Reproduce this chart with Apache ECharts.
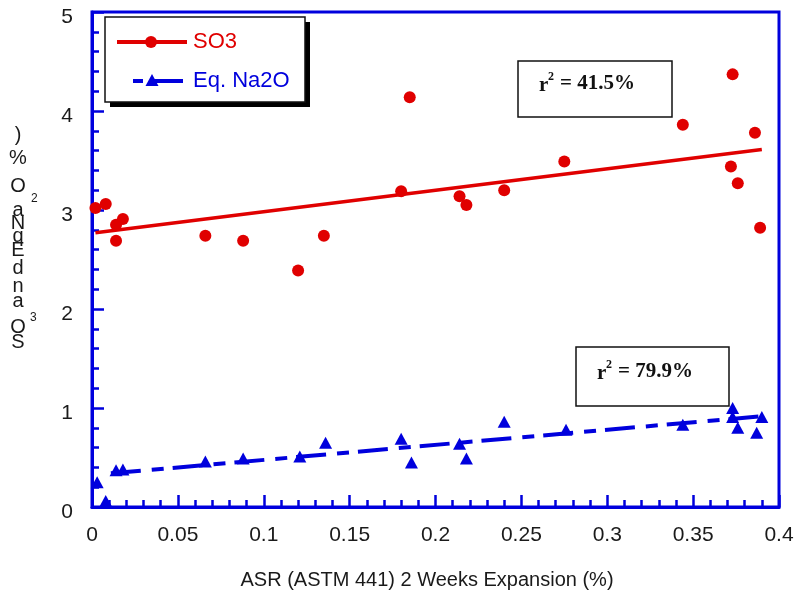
<!DOCTYPE html>
<html>
<head>
<meta charset="utf-8">
<script src="https://cdn.jsdelivr.net/npm/echarts@6/dist/echarts.min.js"></script>
<style>
  html, body { margin: 0; padding: 0; background: #fff; }
  #chart { width: 801px; height: 599px; }
</style>
</head>
<body>
<div id="chart"></div>
<script>
// values
const so3X = [0.002, 0.008, 0.014, 0.018, 0.014, 0.066, 0.088, 0.120, 0.135, 0.180, 0.185,
  0.214, 0.218, 0.240, 0.275, 0.344, 0.373, 0.372, 0.376, 0.386, 0.389];
const so3Y = [3.02, 3.06, 2.85, 2.91, 2.69, 2.74, 2.69, 2.39, 2.74, 3.19, 4.14,
  3.14, 3.05, 3.20, 3.49, 3.86, 4.37, 3.44, 3.27, 3.78, 2.82];

const naX = [0.003, 0.008, 0.014, 0.018, 0.066, 0.088, 0.121, 0.136, 0.180, 0.186,
  0.214, 0.218, 0.240, 0.276, 0.344, 0.373, 0.373, 0.376, 0.390, 0.387];
const naY = [0.25, 0.06, 0.37, 0.38, 0.46, 0.49, 0.51, 0.65, 0.69, 0.45,
  0.64, 0.49, 0.86, 0.78, 0.83, 1.00, 0.91, 0.80, 0.91, 0.75];

// fitted lines, endpoints as drawn
const so3TrendX = [0.002, 0.390];
const so3TrendY = [2.77, 3.61];
const naTrendX = [0.011, 0.392];
const naTrendY = [0.34, 0.92];

const xTicks = [0, 0.05, 0.1, 0.15, 0.2, 0.25, 0.3, 0.35, 0.4];
const yTicks = [0, 1, 2, 3, 4, 5];

const RED = '#e00000';
const BLUE = '#0000dd';

const zip = (xs, ys) => xs.map((x, i) => [x, ys[i]]);

// y axis title is drawn as stacked upright glyphs, like the source
const yTitle = [[')', 135], ['%', 158], ['O', 186], ['a', 210], ['N', 223], ['q', 236],
  ['E', 250], ['d', 268], ['n', 286], ['a', 301], ['O', 327], ['S', 342]];

const chart = echarts.init(document.getElementById('chart'));

const axisFont = { fontFamily: 'Arial, Liberation Sans', fontSize: 21, color: '#1a1a1a' };

const graphics = [];
yTitle.forEach(([ch, y]) => {
  graphics.push({ type: 'text', x: 18, y: y,
    style: { text: ch, font: '20px Arial, Liberation Sans', fill: '#1a1a1a', align: 'center', verticalAlign: 'middle' } });
});
graphics.push({ type: 'text', x: 31, y: 199, style: { text: '2', font: '12px Arial', fill: '#1a1a1a', verticalAlign: 'middle' } });
graphics.push({ type: 'text', x: 30, y: 318, style: { text: '3', font: '12px Arial', fill: '#1a1a1a', verticalAlign: 'middle' } });

// x axis title
graphics.push({ type: 'text', x: 427, y: 580,
  style: { text: 'ASR (ASTM 441) 2 Weeks Expansion (%)', font: '20px Arial, Liberation Sans', fill: '#1a1a1a', align: 'center', verticalAlign: 'middle' } });

// legend box
graphics.push({ type: 'rect', shape: { x: 110, y: 22, width: 200, height: 85 }, style: { fill: '#000' }, z: 10 });
graphics.push({ type: 'rect', shape: { x: 105, y: 17, width: 200, height: 85 }, style: { fill: '#fff', stroke: '#111', lineWidth: 1.5 }, z: 11 });
graphics.push({ type: 'line', shape: { x1: 117, y1: 42, x2: 187, y2: 42 }, style: { stroke: RED, lineWidth: 4 }, z: 12 });
graphics.push({ type: 'circle', shape: { cx: 151, cy: 42, r: 6 }, style: { fill: RED }, z: 12 });
graphics.push({ type: 'text', x: 193, y: 42, style: { text: 'SO3', font: '22px Arial, Liberation Sans', fill: RED, verticalAlign: 'middle' }, z: 12 });
graphics.push({ type: 'line', shape: { x1: 133, y1: 81, x2: 143, y2: 81 }, style: { stroke: BLUE, lineWidth: 4 }, z: 12 });
graphics.push({ type: 'line', shape: { x1: 150, y1: 81, x2: 183, y2: 81 }, style: { stroke: BLUE, lineWidth: 4 }, z: 12 });
graphics.push({ type: 'polygon', shape: { points: [[152, 74], [158.5, 86], [145.5, 86]] }, style: { fill: BLUE }, z: 12 });
graphics.push({ type: 'text', x: 193, y: 81, style: { text: 'Eq. Na2O', font: '22px Arial, Liberation Sans', fill: BLUE, verticalAlign: 'middle' }, z: 12 });

// r-squared boxes
function rBox(x, y, w, h, tx, ty, val) {
  const f = '"Liberation Serif", "Times New Roman", serif';
  graphics.push({ type: 'rect', shape: { x: x, y: y, width: w, height: h }, style: { fill: '#fff', stroke: '#111', lineWidth: 1.5 }, z: 10 });
  graphics.push({ type: 'text', x: tx, y: ty + 2, style: { text: 'r', font: 'bold 21px ' + f, fill: '#111', verticalAlign: 'middle' }, z: 11 });
  graphics.push({ type: 'text', x: tx + 9, y: ty - 7, style: { text: '2', font: 'bold 12px ' + f, fill: '#111', verticalAlign: 'middle' }, z: 11 });
  graphics.push({ type: 'text', x: tx + 21, y: ty, style: { text: '= ' + val, font: 'bold 21px ' + f, fill: '#111', verticalAlign: 'middle' }, z: 11 });
}
rBox(518, 61, 154, 56, 539, 84, '41.5%');
rBox(576, 347, 153, 59, 597, 372, '79.9%');

const option = {
  animation: false,
  backgroundColor: '#fff',
  grid: { left: 92, right: 22, top: 12, bottom: 92, show: true, borderColor: BLUE, borderWidth: 3 },
  xAxis: {
    type: 'value', min: xTicks[0], max: xTicks[xTicks.length - 1], interval: 0.05,
    axisLine: { lineStyle: { color: BLUE, width: 3 } },
    axisTick: { inside: true, length: 12, lineStyle: { color: BLUE, width: 2.5 } },
    minorTick: { show: true, splitNumber: 5, length: 7, lineStyle: { color: BLUE, width: 2.5 } },
    splitLine: { show: false },
    axisLabel: Object.assign({ margin: 18 }, axisFont)
  },
  yAxis: {
    type: 'value', min: yTicks[0], max: yTicks[yTicks.length - 1], interval: 1,
    axisLine: { lineStyle: { color: BLUE, width: 3 } },
    axisTick: { inside: true, length: 12, lineStyle: { color: BLUE, width: 2.5 } },
    minorTick: { show: true, splitNumber: 5, length: 7, lineStyle: { color: BLUE, width: 2.5 } },
    splitLine: { show: false },
    axisLabel: Object.assign({ margin: 19, verticalAlign: 'top', lineHeight: 10 }, axisFont)
  },
  graphic: graphics,
  series: [
    {
      name: 'SO3 fit', type: 'line', data: zip(so3TrendX, so3TrendY), symbol: 'none',
      lineStyle: { color: RED, width: 3.5 }, z: 2
    },
    {
      name: 'Eq. Na2O fit', type: 'line', data: zip(naTrendX, naTrendY), symbol: 'none',
      lineStyle: { color: BLUE, width: 4, type: [30, 11, 12, 9], cap: 'butt' }, z: 2
    },
    {
      name: 'SO3', type: 'scatter', data: zip(so3X, so3Y), symbol: 'circle', symbolSize: 12,
      itemStyle: { color: RED, opacity: 1 }, z: 3
    },
    {
      name: 'Eq. Na2O', type: 'scatter', data: zip(naX, naY), symbol: 'triangle', symbolSize: [13, 12],
      itemStyle: { color: BLUE, opacity: 1 }, z: 3
    }
  ]
};

chart.setOption(option);
</script>
</body>
</html>
